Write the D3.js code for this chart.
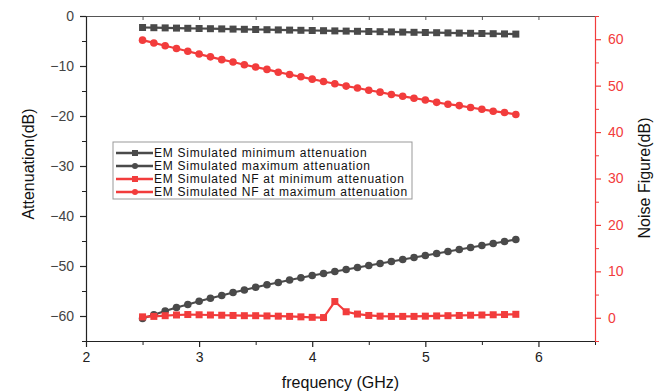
<!DOCTYPE html>
<html>
<head>
<meta charset="utf-8">
<script src="https://cdn.jsdelivr.net/npm/d3@7"></script>
<style>
body{margin:0;background:#fff}
text{font-family:"Liberation Sans",Arial,sans-serif}
</style>
</head>
<body>
<svg id="chart" width="672" height="392"></svg>
<script>
// frequency points (GHz)
var freq=[2.5,2.6,2.7,2.8,2.9,3.0,3.1,3.2,3.3,3.4,3.5,3.6,3.7,3.8,3.9,4.0,4.1,4.2,4.3,4.4,4.5,4.6,4.7,4.8,4.9,5.0,5.1,5.2,5.3,5.4,5.5,5.6,5.7,5.8]

// attenuation (dB), left axis
var minAtt=[-2.3,-2.34,-2.38,-2.42,-2.46,-2.5,-2.54,-2.58,-2.62,-2.66,-2.7,-2.74,-2.78,-2.82,-2.86,-2.9,-2.94,-2.98,-3.02,-3.06,-3.1,-3.14,-3.18,-3.22,-3.26,-3.3,-3.34,-3.38,-3.42,-3.46,-3.5,-3.54,-3.58,-3.62]
var maxAtt=[-60.5,-59.75,-59.0,-58.3,-57.7,-57.05,-56.45,-55.9,-55.3,-54.8,-54.25,-53.75,-53.3,-52.8,-52.35,-51.9,-51.5,-51.1,-50.7,-50.3,-49.9,-49.5,-49.1,-48.7,-48.3,-47.9,-47.5,-47.1,-46.7,-46.3,-45.9,-45.5,-45.1,-44.7]

// noise figure (dB), right axis
var nfMin=[0.2,0.3,0.45,0.6,0.7,0.65,0.6,0.55,0.5,0.45,0.45,0.4,0.35,0.3,0.2,0.1,0.05,3.5,1.3,0.8,0.5,0.35,0.3,0.3,0.3,0.35,0.4,0.45,0.5,0.55,0.6,0.65,0.7,0.75]
var nfMax=[59.8,59.2,58.6,58.0,57.4,56.8,56.2,55.6,55.1,54.5,54.0,53.5,52.9,52.4,51.9,51.4,50.9,50.4,49.9,49.5,49.0,48.6,48.1,47.7,47.3,46.9,46.4,46.0,45.7,45.3,44.9,44.5,44.2,43.8]

var seriesNames=["EM Simulated minimum attenuation","EM Simulated maximum attenuation","EM Simulated NF at minimum attenuation","EM Simulated NF at maximum attenuation"]

var xTicks=[2,3,4,5,6]
var attTicks=[0,-10,-20,-30,-40,-50,-60]
var nfTicks=[0,10,20,30,40,50,60]

var gray="#4a4a4a", red="#f23c3c"
var margin={left:86,top:16,right:77,bottom:51}
var W=672, H=392
var iw=W-margin.left-margin.right, ih=H-margin.top-margin.bottom

var svg=d3.select("#chart")
var g=svg.append("g").attr("transform","translate("+margin.left+","+margin.top+")")

var x=d3.scaleLinear().domain([2,6.5]).range([0,iw])
var yL=d3.scaleLinear().domain([-65,0]).range([ih,0])
var yR=d3.scaleLinear().domain([-5,65]).range([ih,0])

// minor ticks first, then major with labels
function minorAxis(axis,scale,vals,len){
	return axis(scale).tickValues(vals).tickSize(len).tickFormat("")
}

// top frame
g.append("g").call(d3.axisTop(x).tickValues(d3.range(2,6.51,0.5)).tickSize(-4).tickFormat(""))
	.call(function(s){s.selectAll("path,line").attr("stroke","#555").attr("stroke-width",1)})

// bottom axis
g.append("g").attr("transform","translate(0,"+ih+")")
	.call(minorAxis(d3.axisBottom,x,[2.5,3.5,4.5,5.5,6.5],4))
	.call(function(s){s.select("path").remove();s.selectAll("line").attr("stroke","#222")})
var xa=g.append("g").attr("transform","translate(0,"+ih+")")
	.call(d3.axisBottom(x).tickValues(xTicks).tickFormat(d3.format("d")).tickSize(6).tickSizeOuter(0).tickPadding(5))
xa.selectAll("path,line").attr("stroke","#222").attr("stroke-width",1.2)
xa.selectAll("text").attr("font-size",14).attr("fill","#222")

// left axis
g.append("g")
	.call(minorAxis(d3.axisLeft,yL,[-5,-15,-25,-35,-45,-55,-65],4))
	.call(function(s){s.select("path").remove();s.selectAll("line").attr("stroke","#222")})
var la=g.append("g")
	.call(d3.axisLeft(yL).tickValues(attTicks).tickSize(6).tickSizeOuter(0).tickPadding(6))
la.selectAll("path,line").attr("stroke","#222").attr("stroke-width",1.2)
la.selectAll("text").attr("font-size",14).attr("fill","#444")

// right axis
g.append("g").attr("transform","translate("+iw+",0)")
	.call(minorAxis(d3.axisRight,yR,[-5,5,15,25,35,45,55,65],4))
	.call(function(s){s.select("path").remove();s.selectAll("line").attr("stroke",red)})
var ra=g.append("g").attr("transform","translate("+iw+",0)")
	.call(d3.axisRight(yR).tickValues(nfTicks).tickSize(6).tickSizeOuter(0).tickPadding(7))
ra.selectAll("path,line").attr("stroke",red).attr("stroke-width",1.2)
ra.selectAll("text").attr("font-size",14).attr("fill",red)

// axis titles
svg.append("text").attr("transform","translate(34,"+(margin.top+148)+") rotate(-90)")
	.attr("text-anchor","middle").attr("font-size",16).attr("fill","#111").text("Attenuation(dB)")
svg.append("text").attr("transform","translate(650,"+(margin.top+162)+") rotate(-90)")
	.attr("text-anchor","middle").attr("font-size",16).attr("fill","#111").text("Noise Figure(dB)")
svg.append("text").attr("x",margin.left+iw/2).attr("y",388)
	.attr("text-anchor","middle").attr("font-size",16).attr("fill","#111").text("frequency (GHz)")

// series
var series=[
	{vals:minAtt,scale:yL,color:gray,shape:"square"},
	{vals:maxAtt,scale:yL,color:gray,shape:"circle"},
	{vals:nfMin,scale:yR,color:red,shape:"square"},
	{vals:nfMax,scale:yR,color:red,shape:"circle"}
]

series.forEach(function(s){
	var pts=freq.map(function(f,i){return [f,s.vals[i]]})
	var line=d3.line().x(function(d){return x(d[0])}).y(function(d){return s.scale(d[1])})
	g.append("path").datum(pts).attr("d",line).attr("fill","none")
		.attr("stroke",s.color).attr("stroke-width",2.2)
	var m=g.append("g")
	if(s.shape=="square"){
		m.selectAll("rect").data(pts).enter().append("rect")
			.attr("x",function(d){return x(d[0])-3.5})
			.attr("y",function(d){return s.scale(d[1])-3.5})
			.attr("width",7).attr("height",7).attr("fill",s.color)
	}else{
		m.selectAll("circle").data(pts).enter().append("circle")
			.attr("cx",function(d){return x(d[0])})
			.attr("cy",function(d){return s.scale(d[1])})
			.attr("r",3.8).attr("fill",s.color)
	}
})

// legend
var lg=svg.append("g").attr("transform","translate(113,142)")
lg.append("rect").attr("width",299).attr("height",57).attr("fill","#fff").attr("stroke","#999").attr("stroke-width",1)
series.forEach(function(s,i){
	var yy=11+i*13
	lg.append("line").attr("x1",3).attr("x2",40).attr("y1",yy).attr("y2",yy).attr("stroke",s.color).attr("stroke-width",2.4)
	if(s.shape=="square") lg.append("rect").attr("x",19).attr("y",yy-3).attr("width",6).attr("height",6).attr("fill",s.color)
	else lg.append("circle").attr("cx",22).attr("cy",yy).attr("r",3).attr("fill",s.color)
	lg.append("text").attr("x",41).attr("y",yy+4.2).attr("font-size",12).attr("letter-spacing",0.75)
		.attr("fill","#111").text(seriesNames[i])
})
</script>
</body>
</html>
